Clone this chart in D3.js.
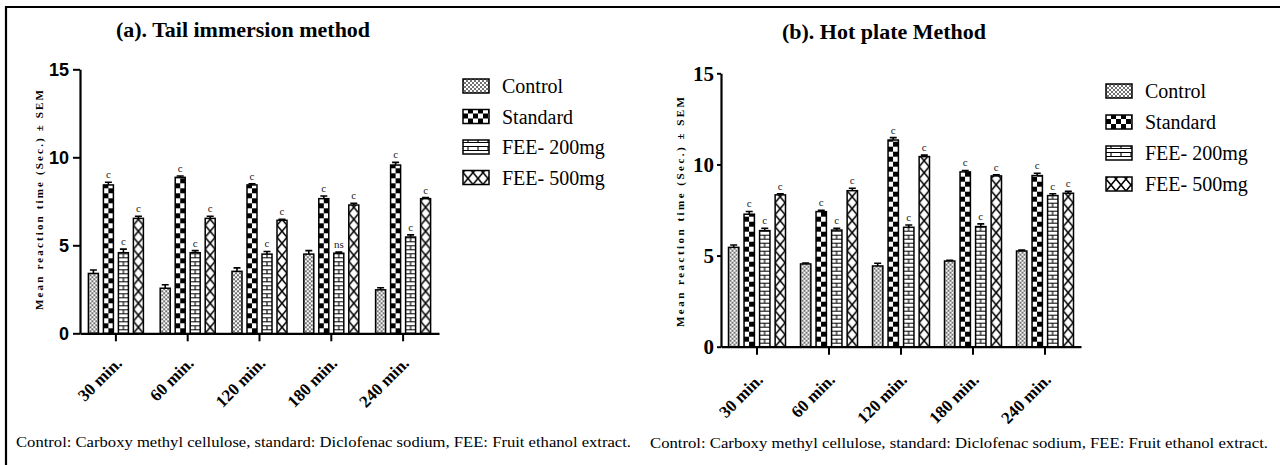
<!DOCTYPE html>
<html>
<head>
<meta charset="utf-8">
<script src="https://cdn.jsdelivr.net/npm/d3@7"></script>
<style>
  body { margin: 0; background: #fff; }
  svg { display: block; }
</style>
</head>
<body>
<div id="chart"></div>
<script>
// categories and series
const times = ["30 min.", "60 min.", "120 min.", "180 min.", "240 min."];
const groups = ["Control", "Standard", "FEE- 200mg", "FEE- 500mg"];
const yTicks = [0, 5, 10, 15];

// (a) tail immersion, mean and SEM
const tailControl  = [3.40, 2.56, 3.52, 4.50, 2.47];
const tailStandard = [8.43, 8.86, 8.43, 7.65, 9.56];
const tailFee200   = [4.58, 4.58, 4.50, 4.55, 5.47];
const tailFee500   = [6.53, 6.53, 6.42, 7.29, 7.65];
const tailControlSem  = [0.20, 0.20, 0.20, 0.20, 0.12];
const tailStandardSem = [0.15, 0.08, 0.06, 0.15, 0.15];
const tailFee200Sem   = [0.20, 0.12, 0.15, 0.06, 0.12];
const tailFee500Sem   = [0.12, 0.12, 0.06, 0.10, 0.06];
const tailSigStandard = ["c", "c", "c", "c", "c"];
const tailSigFee200   = ["c", "c", "c", "ns", "c"];
const tailSigFee500   = ["c", "c", "c", "c", "c"];

// (b) hot plate, mean and SEM
const hotControl  = [5.45, 4.54, 4.43, 4.70, 5.25];
const hotStandard = [7.27, 7.41, 11.34, 9.59, 9.39];
const hotFee200   = [6.37, 6.40, 6.55, 6.59, 8.29];
const hotFee500   = [8.33, 8.56, 10.43, 9.37, 8.42];
const hotControlSem  = [0.13, 0.05, 0.15, 0.04, 0.05];
const hotStandardSem = [0.15, 0.08, 0.13, 0.08, 0.13];
const hotFee200Sem   = [0.13, 0.10, 0.13, 0.15, 0.10];
const hotFee500Sem   = [0.06, 0.13, 0.08, 0.06, 0.10];
const hotSigStandard = ["c", "c", "c", "c", "c"];
const hotSigFee200   = ["c", "c", "c", "c", "c"];
const hotSigFee500   = ["c", "c", "c", "c", "c"];

const caption = "Control: Carboxy methyl cellulose, standard: Diclofenac sodium, FEE: Fruit ethanol extract.";
const yLabel = "Mean reaction time (Sec.) \u00b1 SEM";

const serif = "'Liberation Serif', 'Times New Roman', serif";
const W = 1280, H = 465;

const svg = d3.select("#chart").append("svg")
    .attr("width", W)
    .attr("height", H);
const defs = svg.append("defs");

// frame: left and top rule only
svg.append("path")
    .attr("d", "M6,465 V7 H1280")
    .attr("fill", "none")
    .attr("stroke", "#000")
    .attr("stroke-width", 2.2);

let patId = 0;
// one pattern per shape, anchored on its own corner so every bar starts clean
let makePattern = (kind, x0, y0) => {
  const id = "pat" + (patId++);
  let w, h;
  if (kind === 0) { w = 4; h = 4; }
  else if (kind === 1) { w = 10; h = 10; }
  else if (kind === 2) { w = 10; h = 8; }
  else { w = 10; h = 12; }
  const p = defs.append("pattern")
      .attr("id", id)
      .attr("patternUnits", "userSpaceOnUse")
      .attr("x", x0).attr("y", y0)
      .attr("width", w).attr("height", h);
  p.append("rect").attr("width", w).attr("height", h).attr("fill", "#fff");
  if (kind === 0) {
    p.append("path").attr("d", "M0,0 L4,4 M4,0 L0,4")
        .attr("stroke", "#333").attr("stroke-width", 0.7);
  } else if (kind === 1) {
    p.append("rect").attr("x", 0).attr("y", 0).attr("width", 5).attr("height", 5).attr("fill", "#000");
    p.append("rect").attr("x", 5).attr("y", 5).attr("width", 5).attr("height", 5).attr("fill", "#000");
  } else if (kind === 2) {
    p.append("path").attr("d", "M0,0.5 H10 M0,4.5 H10 M5,0 V4.5")
        .attr("stroke", "#000").attr("stroke-width", 1.1);
  } else {
    p.append("path").attr("d", "M0,0 L10,12 M10,0 L0,12")
        .attr("stroke", "#000").attr("stroke-width", 1.5);
  }
  return `url(#${id})`;
};

let drawPanel = (cfg) => {
  const g = svg.append("g");

  const x0 = d3.scaleBand().domain(times).range([cfg.left, cfg.right]).padding(0);
  const bw = x0.bandwidth();
  const x1 = d3.scaleBand().domain(groups)
      .range([(bw - cfg.span) / 2, (bw + cfg.span) / 2])
      .paddingInner(1 / 3).paddingOuter(0);
  const y = d3.scaleLinear().domain([0, 15]).range([cfg.bottom, cfg.top]);

  // title
  g.append("text")
      .attr("x", cfg.titleX).attr("y", cfg.titleY)
      .attr("text-anchor", "middle")
      .attr("font-family", serif)
      .attr("font-weight", "bold")
      .attr("font-size", "22px")
      .text(cfg.title);

  // bars
  const rows = [];
  times.forEach((t, i) => {
    groups.forEach((s, k) => {
      rows.push({ t: t, s: s, k: k, v: cfg.means[k][i], e: cfg.sems[k][i], sig: cfg.sig[k] ? cfg.sig[k][i] : null });
    });
  });

  rows.forEach(d => {
    const bx = x0(d.t) + x1(d.s);
    const by = y(d.v);
    const fill = makePattern(d.k, bx, cfg.bottom);
    g.append("rect")
        .attr("x", bx).attr("y", by)
        .attr("width", x1.bandwidth())
        .attr("height", y(0) - by)
        .attr("fill", fill)
        .attr("stroke", "#000")
        .attr("stroke-width", 1.5);
    const cx = bx + x1.bandwidth() / 2;
    const et = y(d.v + d.e);
    g.append("path")
        .attr("d", `M${cx},${by} V${et} M${cx - 3.5},${et} H${cx + 3.5}`)
        .attr("stroke", "#000")
        .attr("stroke-width", 1.6)
        .attr("fill", "none");
    if (d.sig) {
      g.append("text")
          .attr("x", cx).attr("y", et - 4)
          .attr("text-anchor", "middle")
          .attr("font-family", serif)
          .attr("font-size", "11px")
          .attr("fill", "#222")
          .text(d.sig);
    }
  });

  // y axis
  const yAxisGroup = g.append("g").attr("transform", `translate(${cfg.left},0)`);
  yAxisGroup.call(d3.axisLeft(y).tickValues(yTicks).tickSize(cfg.ytick).tickSizeOuter(0).tickPadding(cfg.ypad));
  yAxisGroup.select(".domain").attr("stroke-width", 2.2);
  yAxisGroup.selectAll(".tick line").attr("stroke-width", 2);
  yAxisGroup.selectAll("text")
      .attr("font-family", cfg.yFont)
      .attr("font-weight", "bold")
      .attr("font-size", cfg.yFontSize)
      .attr("fill", "#000");

  // x axis
  const xAxisGroup = g.append("g").attr("transform", `translate(0,${cfg.bottom})`);
  xAxisGroup.call(d3.axisBottom(x0).tickSize(8).tickSizeOuter(0).tickFormat(() => ""));
  xAxisGroup.select(".domain").attr("stroke-width", 2.2);
  xAxisGroup.selectAll(".tick line").attr("stroke-width", 2);

  times.forEach(t => {
    const ax = x0(t) + bw / 2 + 7;
    const ay = cfg.bottom + cfg.xLabelDy;
    g.append("text")
        .attr("transform", `translate(${ax},${ay}) rotate(-45)`)
        .attr("text-anchor", "end")
        .attr("font-family", serif)
        .attr("font-weight", "bold")
        .attr("font-size", "17px")
        .text(t);
  });

  // y label
  g.append("text")
      .attr("transform", `translate(${cfg.yLabelX},${cfg.yLabelY}) rotate(-90)`)
      .attr("text-anchor", "middle")
      .attr("font-family", serif)
      .attr("font-weight", "bold")
      .attr("font-size", "11px")
      .attr("textLength", cfg.yLabelLen)
      .attr("lengthAdjust", "spacing")
      .text(yLabel);

  // legend
  groups.forEach((s, k) => {
    const ly = cfg.legendY + k * cfg.legendStep;
    g.append("rect")
        .attr("x", cfg.legendX).attr("y", ly)
        .attr("width", 26).attr("height", 14)
        .attr("fill", makePattern(k, cfg.legendX, ly + 14))
        .attr("stroke", "#000")
        .attr("stroke-width", 1.5);
    g.append("text")
        .attr("x", cfg.legendX + 39).attr("y", ly + 14)
        .attr("font-family", serif)
        .attr("font-size", "20px")
        .text(s);
  });

  // caption
  g.append("text")
      .attr("x", cfg.capX).attr("y", cfg.capY)
      .attr("font-family", serif)
      .attr("font-size", "15px")
      .attr("textLength", cfg.capLen)
      .attr("lengthAdjust", "spacingAndGlyphs")
      .text(caption);
};

drawPanel({
  title: "(a). Tail immersion method", titleX: 243, titleY: 37,
  left: 80, right: 439, top: 69.3, bottom: 333.3, span: 55,
  means: [tailControl, tailStandard, tailFee200, tailFee500],
  sems: [tailControlSem, tailStandardSem, tailFee200Sem, tailFee500Sem],
  sig: [null, tailSigStandard, tailSigFee200, tailSigFee500],
  ytick: 7, ypad: 4, yFont: "'Liberation Sans Narrow', 'Liberation Sans', Arial, sans-serif", yFontSize: "18px",
  xLabelDy: 31,
  yLabelX: 43, yLabelY: 200, yLabelLen: 220,
  legendX: 463, legendY: 79, legendStep: 30.5,
  capX: 16, capY: 447, capLen: 615
});

drawPanel({
  title: "(b). Hot plate Method", titleX: 884, titleY: 39,
  left: 721, right: 1081, top: 73.3, bottom: 346.7, span: 57,
  means: [hotControl, hotStandard, hotFee200, hotFee500],
  sems: [hotControlSem, hotStandardSem, hotFee200Sem, hotFee500Sem],
  sig: [null, hotSigStandard, hotSigFee200, hotSigFee500],
  ytick: 4, ypad: 3, yFont: serif, yFontSize: "21px",
  xLabelDy: 34,
  yLabelX: 684, yLabelY: 212, yLabelLen: 230,
  legendX: 1106, legendY: 84, legendStep: 31,
  capX: 650, capY: 448, capLen: 618
});
</script>
</body>
</html>
